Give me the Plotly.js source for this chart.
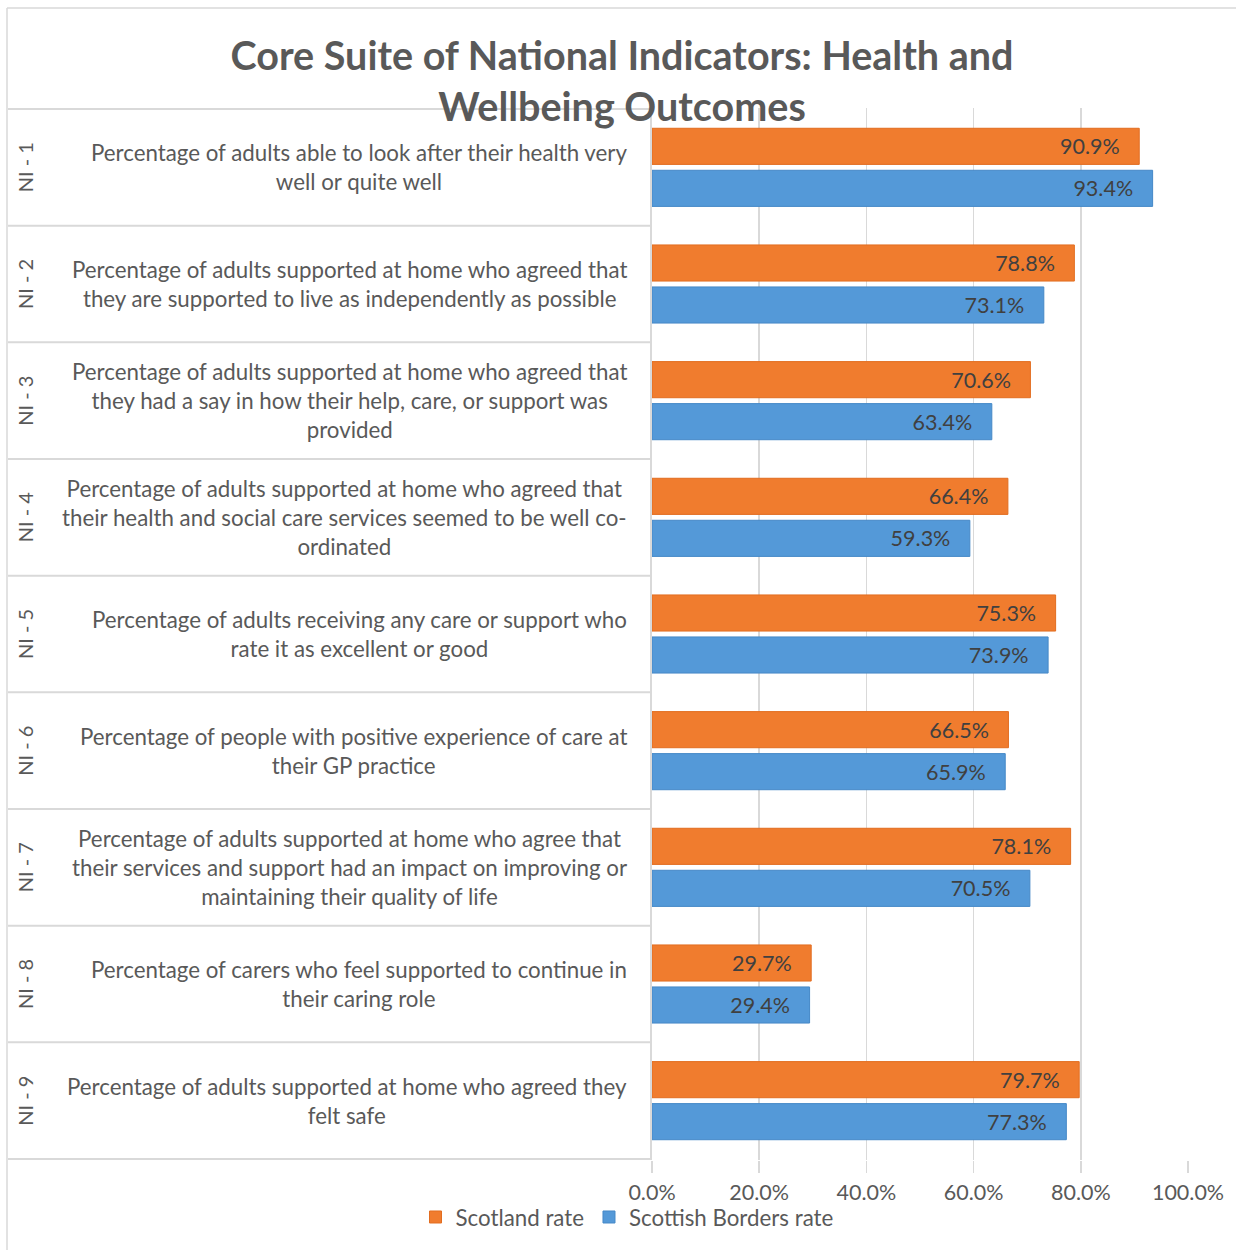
<!DOCTYPE html>
<html>
<head>
<meta charset="utf-8">
<script src="https://cdn.plot.ly/plotly-3.0.1.min.js"></script>
<style>
  html, body { margin: 0; padding: 0; background: #ffffff; }
  #chart { width: 1236px; height: 1250px; }
</style>
</head>
<body>
<div id="chart"></div>
<script>
// ---- data ----
const categories = ["NI - 1", "NI - 2", "NI - 3", "NI - 4", "NI - 5", "NI - 6", "NI - 7", "NI - 8", "NI - 9"];
const descriptions = [
  "Percentage of adults able to look after their health very<br>well or quite well",
  "Percentage of adults supported at home who agreed that<br>they are supported to live as independently as possible",
  "Percentage of adults supported at home who agreed that<br>they had a say in how their help, care, or support was<br>provided",
  "Percentage of adults supported at home who agreed that<br>their health and social care services seemed to be well co-<br>ordinated",
  "Percentage of adults receiving any care or support who<br>rate it as excellent or good",
  "Percentage of people with positive experience of care at<br>their GP practice",
  "Percentage of adults supported at home who agree that<br>their services and support had an impact on improving or<br>maintaining their quality of life",
  "Percentage of carers who feel supported to continue in<br>their caring role",
  "Percentage of adults supported at home who agreed they<br>felt safe"
];
const scotlandRate = [90.9, 78.8, 70.6, 66.4, 75.3, 66.5, 78.1, 29.7, 79.7];
const bordersRate  = [93.4, 73.1, 63.4, 59.3, 73.9, 65.9, 70.5, 29.4, 77.3];
const tickValues = [0, 20, 40, 60, 80, 100];
const tickLabels = ["0.0%", "20.0%", "40.0%", "60.0%", "80.0%", "100.0%"];
const seriesNames = ["Scotland rate", "Scottish Borders rate"];

// ---- layout helpers ----
const W = 1236, H = 1250;
const mL = 652, mR = 48, mT = 108, mB = 90;
const pw = W - mL - mR, ph = H - mT - mB;
const px2x = p => (p - mL) / pw;
const px2y = p => (H - mB - p) / ph;

const FONT = "Lato, 'Open Sans', sans-serif";
const GRID = "#d9d9d9";
const PAD = "\u00a0\u00a0\u00a0";

const traces = [
  {
    type: "bar", orientation: "h", name: seriesNames[0],
    y: categories, x: scotlandRate,
    marker: { color: "#F07C2E", line: { color: "#E26D20", width: 1 } },
    texttemplate: "%{x:.1f}%" + PAD, textposition: "inside", insidetextanchor: "end",
    textfont: { family: FONT, size: 21.5, color: "#404040" },
    constraintext: "none", hoverinfo: "x+y"
  },
  {
    type: "bar", orientation: "h", name: seriesNames[1],
    y: categories, x: bordersRate,
    marker: { color: "#5499D8", line: { color: "#4588C7", width: 1 } },
    texttemplate: "%{x:.1f}%" + PAD, textposition: "inside", insidetextanchor: "end",
    textfont: { family: FONT, size: 21.5, color: "#404040" },
    constraintext: "none", hoverinfo: "x+y"
  }
];

const shapes = [];
// row separators on the left category table
for (let i = 0; i <= categories.length; i++) {
  shapes.push({
    type: "line", xref: "paper", yref: "y",
    x0: px2x(8), x1: 0, y0: i - 0.5, y1: i - 0.5,
    line: { color: GRID, width: 2 }, layer: "below"
  });
}
// outer chart border (top & left)
shapes.push({ type: "line", xref: "paper", yref: "paper",
  x0: px2x(7), x1: px2x(1236), y0: px2y(8), y1: px2y(8), line: { color: GRID, width: 1.5 } });
shapes.push({ type: "line", xref: "paper", yref: "paper",
  x0: px2x(7), x1: px2x(7), y0: px2y(8), y1: px2y(1250), line: { color: GRID, width: 1.5 } });

const annotations = [];
categories.forEach((c, i) => {
  annotations.push({
    xref: "paper", yref: "y", x: px2x(629), y: c,
    xanchor: "right", yanchor: "middle", align: "center",
    text: descriptions[i], showarrow: false,
    font: { family: FONT, size: 22.3, color: "#595959" }
  });
  annotations.push({
    xref: "paper", yref: "y", x: px2x(25), y: c,
    xanchor: "center", yanchor: "middle", textangle: -90,
    text: c, showarrow: false,
    font: { family: FONT, size: 20, color: "#595959" }
  });
});

const layout = {
  width: W, height: H,
  margin: { l: mL, r: mR, t: mT, b: mB, pad: 0 },
  paper_bgcolor: "#ffffff", plot_bgcolor: "#ffffff",
  title: {
    text: "<b>Core Suite of National Indicators: Health and<br>Wellbeing Outcomes</b>",
    font: { family: FONT, size: 39.5, color: "#595959" },
    xref: "container", x: 622 / W, xanchor: "center",
    yref: "container", y: 1 - 70 / H, yanchor: "top"
  },
  barmode: "group", bargap: 0.28, bargroupgap: 0.14,
  showlegend: true,
  legend: {
    orientation: "h", xref: "paper", yref: "paper",
    x: px2x(627), xanchor: "center", y: px2y(1217), yanchor: "middle",
    font: { family: FONT, size: 22.3, color: "#595959" },
    traceorder: "normal", itemwidth: 30, bgcolor: "rgba(0,0,0,0)"
  },
  xaxis: {
    range: [0, 100], tickvals: tickValues, ticktext: tickLabels,
    showgrid: true, gridcolor: GRID, gridwidth: 1.5,
    zeroline: false, showline: false,
    ticks: "outside", ticklen: 12, tickcolor: GRID, tickwidth: 1.5,
    ticklabelstandoff: 1,
    tickfont: { family: FONT, size: 21.5, color: "#595959" },
    fixedrange: true
  },
  yaxis: {
    type: "category", autorange: "reversed",
    showticklabels: false, showgrid: false, zeroline: false,
    showline: true, linecolor: GRID, linewidth: 2, ticks: "",
    fixedrange: true
  },
  shapes: shapes,
  annotations: annotations
};

Plotly.newPlot("chart", traces, layout, { displayModeBar: false, staticPlot: true });
</script>
</body>
</html>
